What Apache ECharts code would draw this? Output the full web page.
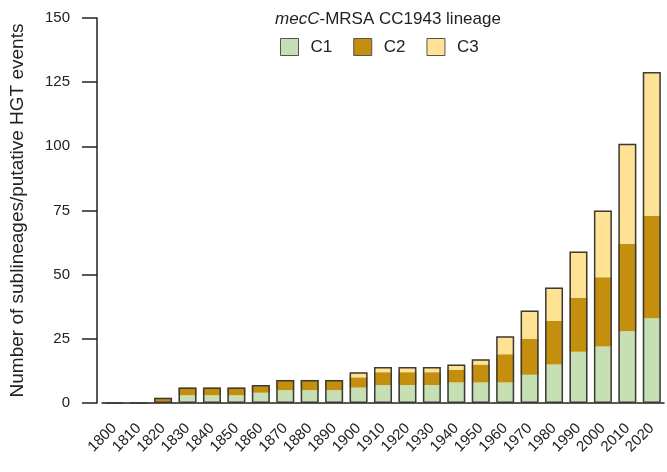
<!DOCTYPE html>
<html>
<head>
<meta charset="utf-8">
<script src="https://cdn.jsdelivr.net/npm/echarts@6/dist/echarts.min.js"></script>
<style>html,body{margin:0;padding:0;background:#fff}#c{width:667px;height:472px}</style>
</head>
<body>
<div id="c"></div>
<script>
var years = ['1800','1810','1820','1830','1840','1850','1860','1870','1880','1890','1900','1910','1920','1930','1940','1950','1960','1970','1980','1990','2000','2010','2020'];
var c1 = [0,0,0,3,3,3,4,5,5,5,6,7,7,7,8,8,8,11,15,20,22,28,33];
var c2 = [0,0,2,3,3,3,3,4,4,4,4,5,5,5,5,7,11,14,17,21,27,34,40];
var c3 = [0,0,0,0,0,0,0,0,0,0,2,2,2,2,2,2,7,11,13,18,26,39,56];
var yTicks = [0,25,50,75,100,125,150];

var totals = years.map(function(_, i){ return c1[i] + c2[i] + c3[i]; });
var FONT = '"Liberation Sans", Arial, sans-serif';
var BW = 18;

var chart = echarts.init(document.getElementById('c'), null, {renderer:'canvas'});
chart.setOption({
  animation: false,
  backgroundColor: '#fff',
  textStyle: {fontFamily: FONT},
  title: {
    text: '{i|mecC}{n|-MRSA CC1943 lineage}',
    left: 383, top: 6, textAlign: 'center',
    textStyle: {
      fontWeight: 'normal',
      rich: {
        i: {fontStyle: 'italic', fontWeight: 'normal', fontSize: 17, color: '#222', fontFamily: FONT},
        n: {fontWeight: 'normal', fontSize: 17, color: '#222', fontFamily: FONT}
      }
    }
  },
  legend: {
    data: ['C1','C2','C3'],
    left: 275, top: 33,
    itemWidth: 18, itemHeight: 17, itemGap: 21,
    icon: 'rect',
    textStyle: {fontSize: 17, color: '#222', fontFamily: FONT, padding: [0,0,0,7]},
    itemStyle: {borderColor: '#555', borderWidth: 1}
  },
  grid: {left: 97, right: 3, top: 18, bottom: 69},
  xAxis: {
    type: 'category',
    data: years,
    axisLine: {lineStyle: {color: '#222', width: 1.5}},
    axisTick: {alignWithLabel: true, length: 15, lineStyle: {color: '#222', width: 1.5}},
    axisLabel: {rotate: 45, fontSize: 15, color: '#222', margin: 23, interval: 0, fontFamily: FONT}
  },
  yAxis: {
    type: 'value',
    min: yTicks[0], max: yTicks[yTicks.length-1], interval: 25,
    offset: 5,
    name: 'Number of sublineages/putative HGT events',
    nameLocation: 'middle', nameGap: 70,
    nameTextStyle: {fontSize: 19, color: '#222', fontFamily: FONT},
    axisLine: {show: true, lineStyle: {color: '#222', width: 1.5}},
    axisTick: {show: true, length: 15, lineStyle: {color: '#222', width: 1.5}},
    axisLabel: {fontSize: 15, color: '#222', margin: 27, fontFamily: FONT},
    splitLine: {show: false}
  },
  series: [
    {name: 'C1', type: 'bar', stack: 'a', barWidth: BW, data: c1, itemStyle: {color: '#c6e0b4'}},
    {name: 'C2', type: 'bar', stack: 'a', barWidth: BW, data: c2, itemStyle: {color: '#c48f0c'}},
    {name: 'C3', type: 'bar', stack: 'a', barWidth: BW, data: c3, itemStyle: {color: '#ffe294'}},
    {name: 'total', type: 'bar', barWidth: BW, barGap: '-100%', data: totals, z: 5, silent: true,
     itemStyle: {color: 'rgba(0,0,0,0)', borderColor: '#3a3a3a', borderWidth: 1.5}}
  ]
});
</script>
</body>
</html>
